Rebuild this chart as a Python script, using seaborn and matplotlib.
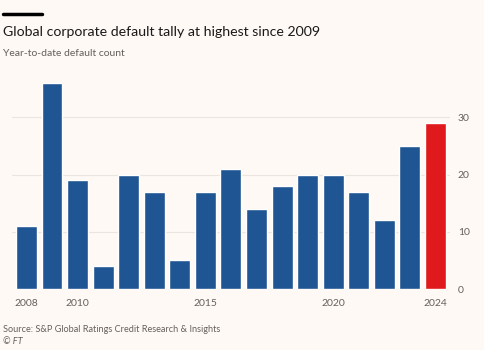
import matplotlib
matplotlib.use("Agg")
import pandas as pd
import seaborn as sns
import matplotlib.pyplot as plt

# Data
years = list(range(2008, 2025))
defaults = [11, 36, 19, 4, 20, 17, 5, 17, 21, 14, 18, 20, 20, 17, 12, 25, 29]
labelled_years = [2008, 2010, 2015, 2020, 2024]
y_ticks = [0, 10, 20, 30]

bg = '#fff9f5'
blue = '#1f5593'
red = '#e0191c'
grey = '#66605c'

df = pd.DataFrame({"year": years, "count": defaults})
df["latest"] = ["yes" if y == years[-1] else "no" for y in df.year]

sns.set_style("white")
plt.rcParams['font.family'] = ['Lato', 'DejaVu Sans']

fig = plt.figure(figsize=(4.85, 3.5), dpi=100, facecolor=bg)
ax = fig.add_axes([0.0255, 0.174, 0.9015, 0.589], facecolor=bg)

sns.barplot(
    data=df, x="year", y="count", hue="latest",
    palette={"no": blue, "yes": red}, dodge=False,
    width=0.82, legend=False, ax=ax, saturation=1
)

ax.set_ylim(0, 36)
ax.set_xlim(-0.55, len(years) - 0.45)
ax.yaxis.tick_right()
ax.set_yticks(y_ticks)
ax.set_yticklabels([str(t) for t in y_ticks])
ax.grid(axis='y', color='#ebe5e0', linewidth=0.8)
ax.set_axisbelow(True)

ax.set_xticks(range(len(years)))
ax.set_xticklabels([str(y) if y in labelled_years else "" for y in years])
ax.tick_params(axis='x', length=3, color='#ccc5c0', labelsize=7.5, labelcolor=grey, pad=4)
ax.tick_params(axis='y', length=0, labelsize=7.5, labelcolor=grey, pad=6)
ax.set_xlabel("")
ax.set_ylabel("")
for s in ax.spines.values():
    s.set_visible(False)

# Header and footer
fig.add_artist(plt.Line2D([3 / 485, 42 / 485], [1 - 14 / 350] * 2, color='black', linewidth=2.5))
fig.text(3 / 485, 1 - 32 / 350, "Global corporate default tally at highest since 2009",
         fontsize=10.2, color='#1a1a1a', va='center', ha='left')
fig.text(3 / 485, 1 - 53 / 350, "Year-to-date default count",
         fontsize=7.5, color=grey, va='center', ha='left')
fig.text(3 / 485, 1 - 330 / 350, "Source: S&P Global Ratings Credit Research & Insights",
         fontsize=6.6, color=grey, va='center', ha='left')
fig.text(3 / 485, 1 - 342 / 350, "© FT",
         fontsize=6.6, color=grey, va='center', ha='left', style='italic')

fig.savefig("out.png", dpi=100, facecolor=bg)
